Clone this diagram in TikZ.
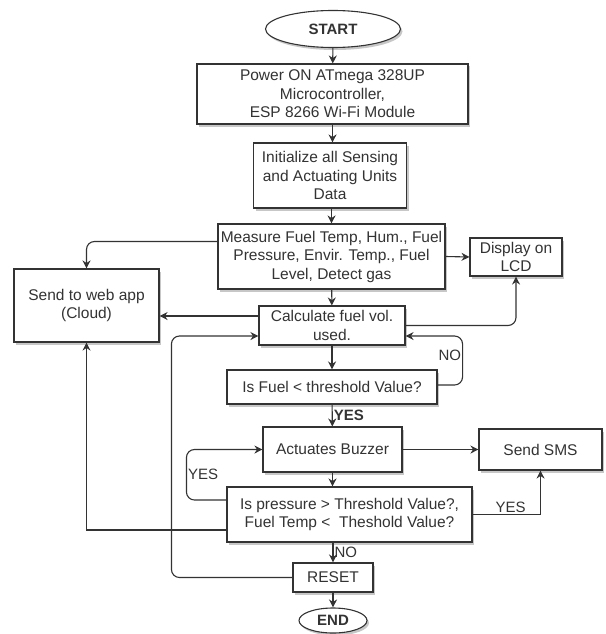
\documentclass[tikz,border=0pt]{standalone}
\usepackage{fontspec}
\setmainfont{Liberation Sans}
\usetikzlibrary{arrows.meta,positioning,shapes.geometric,shadows}
\definecolor{ink}{HTML}{333333}

\begin{document}
\begin{tikzpicture}[
 x=1pt,y=-1pt,
 shade/.style={drop shadow={shadow xshift=2pt,shadow yshift=-2.5pt,opacity=0.22,fill=black}},
 box/.style={draw=ink,line width=1.1pt,fill=white,align=center,text=ink,
 inner sep=2pt,font=\fontsize{15.5}{18.5}\selectfont,shade},
 term/.style={box,ellipse,font=\bfseries\fontsize{15}{18}\selectfont},
 arr/.style={-{Stealth[length=8pt,width=8pt]},draw=ink,line width=1.1pt},
 lbl/.style={text=ink,font=\fontsize{15}{18}\selectfont,inner sep=1pt}]
\useasboundingbox (0,0) rectangle (605,634);
\node[term,minimum width=135,minimum height=37] (st) at (333,29) {START};
\node[box,minimum width=271,minimum height=60] (pw) at (332.5,94)
 {Power ON ATmega 328UP\\Microcontroller,\\ESP 8266 Wi-Fi Module};
\node[box,minimum width=153,minimum height=65] (ini) at (330,175.5)
 {Initialize all Sensing\\and Actuating Units\\Data};
\node[box,minimum width=227,minimum height=65] (ms) at (331.5,256.5)
 {Measure Fuel Temp, Hum., Fuel\\Pressure, Envir. Temp., Fuel\\Level, Detect gas};
\node[box,minimum width=92,minimum height=38] (lcd) at (516,257)
 {Display on\\LCD};
\node[box,minimum width=145,minimum height=73] (web) at (86.5,305.5)
 {Send to web app\\(Cloud)};
\node[box,minimum width=146,minimum height=39] (cv) at (332,325.5)
 {Calculate fuel vol.\\used.};
\node[box,minimum width=210,minimum height=34] (th) at (332,387)
 {Is Fuel < threshold Value?};
\node[box,minimum width=139,minimum height=45] (bz) at (332.5,449.5)
 {Actuates Buzzer};
\node[box,minimum width=123,minimum height=41] (sms) at (540.5,449.5)
 {Send SMS};
\node[box,minimum width=245,minimum height=55] (pr) at (349.5,514.5)
 {Is pressure > Threshold Value?,\\Fuel Temp <\ \ Theshold Value?};
\node[box,minimum width=80,minimum height=29] (rs) at (333,577.5) {RESET};
\node[term,minimum width=68,minimum height=25] (en) at (333,620.5) {END};
% main column
\draw[arr] (st)--(pw);
\draw[arr] (pw.south)--(pw.south |- ini.north);
\draw[arr] (ini.south -| ms.north)--(ms);
\draw[arr] (ms)--(cv);
\draw[arr] (cv)--(th);
\draw[arr] (th)--(bz) node[lbl,midway,right,font=\bfseries\fontsize{15}{18}\selectfont] {YES};
\draw[arr] (bz.south)--(bz.south |- pr.north);
\draw[arr] (pr.south -| rs.north)--(rs) node[lbl,midway,right] {NO};
\draw[arr] (rs)--(en);
% side branches
\draw[arr,rounded corners=8pt] ([yshift=15pt]ms.west) -| (web.north);
\draw[arr] ([yshift=9.5pt]cv.west)--([yshift=9.5pt]cv.west -| web.east);
\draw[arr] (ms.east)--(lcd.west);
\draw[arr,rounded corners=8pt] (cv.east) -| (lcd.south);
\draw[arr,rounded corners=8pt] ([yshift=2pt]th.east)--++(25,0)
 |- ([yshift=-10.5pt]cv.east) node[lbl,pos=0.3,left] {NO};
\draw[arr,rounded corners=8pt] (rs.west)--++(-121,0)
 |- ([yshift=-10.5pt]cv.west);
\draw[arr] (bz)--(sms);
\draw[arr] (pr.east) -| (sms.south) node[lbl,pos=0.28,above] {YES};
\draw[arr,rounded corners=8pt] ([yshift=14.5pt]pr.west)--++(-40,0)
 |- (bz.west) node[lbl,pos=0.25,right] {YES};
\draw[arr] ([yshift=-15.5pt]pr.west) -| (web.south);
\end{tikzpicture}
\end{document}
